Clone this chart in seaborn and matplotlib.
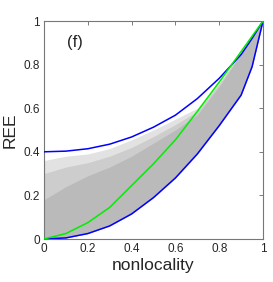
import numpy as np
import pandas as pd
import matplotlib
matplotlib.use("Agg")
import matplotlib.pyplot as plt
import seaborn as sns

# ---- data ----
grid_x = [0.0, 0.1, 0.2, 0.3, 0.4, 0.5, 0.6, 0.7, 0.8, 0.9, 0.95, 1.0]
lower_bound = [0.0, 0.005, 0.025, 0.06, 0.115, 0.19, 0.28, 0.39, 0.52, 0.66, 0.79, 1.0]
upper_bound = [0.40, 0.403, 0.414, 0.435, 0.468, 0.513, 0.568, 0.644, 0.737, 0.846, 0.92, 1.0]
green_curve = [0.0, 0.025, 0.075, 0.145, 0.245, 0.345, 0.455, 0.585, 0.72, 0.86, 0.93, 1.0]
cloud_sparse_top = [0.36, 0.38, 0.39, 0.415, 0.455, 0.50, 0.55, 0.60, 0.72, 0.86, 0.93, 1.0]
cloud_mid_top = [0.30, 0.33, 0.35, 0.38, 0.42, 0.47, 0.525, 0.585, 0.71, 0.855, 0.928, 1.0]
cloud_dense_top = [0.18, 0.24, 0.29, 0.33, 0.38, 0.44, 0.50, 0.57, 0.70, 0.85, 0.925, 1.0]
zero_column_y = [0.0, 0.35]
zero_column_x = [0.0, 0.0]

x_ticks = [0, 0.2, 0.4, 0.6, 0.8, 1]
tick_labels = ["0", "0.2", "0.4", "0.6", "0.8", "1"]

sns.set_style("white")
plt.rcParams["font.family"] = ["Liberation Sans", "DejaVu Sans"]

fig = plt.figure(figsize=(2.73, 2.82), dpi=100)
ax = fig.add_axes([44 / 273, 1 - 239 / 282, 219 / 273, 218 / 282])

# scatter cloud represented as filled density regions
ax.fill_between(grid_x, lower_bound, cloud_sparse_top, color="#e2e2e2", lw=0, zorder=1)
ax.fill_between(grid_x, lower_bound, cloud_mid_top, color="#cdcdcd", lw=0, zorder=1.05)
ax.fill_between(grid_x, lower_bound, cloud_dense_top, color="#bababa", lw=0, zorder=1.1)
ax.plot(zero_column_x, zero_column_y, color="#b0b0b0", lw=1.5, zorder=1.2)

df = pd.DataFrame({"x": grid_x, "lower": lower_bound, "upper": upper_bound, "green": green_curve})
sns.lineplot(data=df, x="x", y="lower", color="#0000ff", lw=1.1, ax=ax, sort=False, estimator=None, zorder=3)
sns.lineplot(data=df, x="x", y="upper", color="#0000ff", lw=1.1, ax=ax, sort=False, estimator=None, zorder=3)
sns.lineplot(data=df, x="x", y="green", color="#00ee00", lw=1.1, ax=ax, sort=False, estimator=None, zorder=4)

ax.set_xlim(0, 1)
ax.set_ylim(0, 1)
ax.set_xticks(x_ticks)
ax.set_xticklabels(tick_labels)
ax.set_yticks(x_ticks)
ax.set_yticklabels(tick_labels)
ax.tick_params(direction="in", length=3, width=0.6, color="#666666", labelsize=8.5,
               top=True, right=True, pad=3)
for s in ax.spines.values():
    s.set_color("#777777")
    s.set_linewidth(0.8)

ax.set_xlabel("nonlocality", fontsize=12.5, labelpad=2)
ax.set_ylabel("REE", fontsize=12.5, labelpad=4)
ax.text(0.14, 0.9, "(f)", fontsize=12, ha="center", va="center", transform=ax.transData)

fig.savefig("out.png", dpi=100)
